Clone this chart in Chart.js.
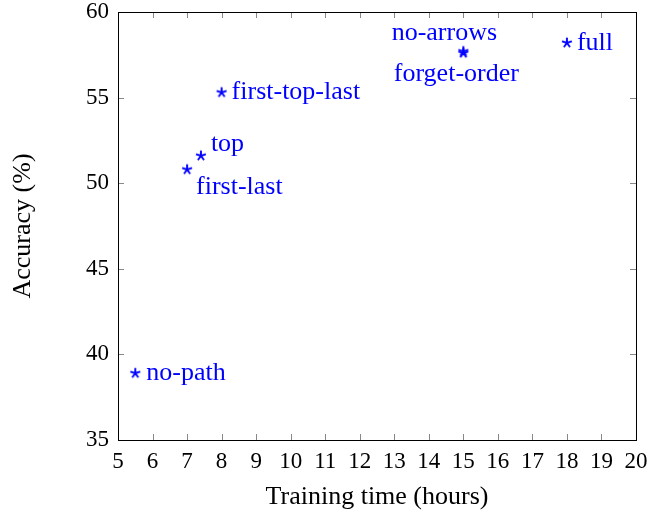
<!DOCTYPE html>
<html>
<head>
<meta charset="utf-8">
<script src="https://cdn.jsdelivr.net/npm/chart.js@4.4.1/dist/chart.umd.min.js"></script>
<style>
  html, body { margin: 0; background: #fff; }
</style>
</head>
<body>
<canvas id="chart" width="663" height="516"></canvas>
<script>
// data
const methods = ["no-path", "first-last", "top", "first-top-last", "no-arrows", "forget-order", "full"]
const trainingHours = [5.5, 7.0, 7.4, 8.0, 15.0, 15.0, 18.0]
const accuracy = [38.9, 50.8, 51.6, 55.3, 57.7, 57.6, 58.2]
const xRange = [5, 20]
const yRange = [35, 60]

// where each label sits relative to its marker: [dx, dy, textAlign]
const labelPlace = {
  "no-path": [11, 0, "left"],
  "first-last": [9, 18, "left"],
  "top": [10, -12, "left"],
  "first-top-last": [10, 0, "left"],
  "no-arrows": [-19, -18, "center"],
  "forget-order": [-7, 21, "center"],
  "full": [10, 0, "left"]
}

const BLUE = "#0000ff"
const SERIF = "'Liberation Serif', 'DejaVu Serif', serif"

// pgfplots-like 5-arm star marker
function makeStar() {
  const c = document.createElement("canvas")
  c.width = 14; c.height = 14
  const g = c.getContext("2d")
  g.strokeStyle = BLUE
  g.lineWidth = 1.9
  g.beginPath()
  for (let i = 0; i < 5; i++) {
    const a = -Math.PI / 2 + i * 2 * Math.PI / 5
    g.moveTo(7, 7)
    g.lineTo(7 + 5.2 * Math.cos(a), 7 + 5.2 * Math.sin(a))
  }
  g.stroke()
  return c
}

// box, inward ticks on all four sides, and the point labels
const framePlugin = {
  id: "frame",
  afterDraw(chart) {
    const { ctx, chartArea: a, scales } = chart
    ctx.save()
    ctx.strokeStyle = "#888"
    ctx.lineWidth = 1
    const len = 6
    scales.x.ticks.forEach(t => {
      const px = Math.round(scales.x.getPixelForValue(t.value)) + 0.5
      ctx.beginPath()
      ctx.moveTo(px, a.bottom); ctx.lineTo(px, a.bottom - len)
      ctx.moveTo(px, a.top); ctx.lineTo(px, a.top + len)
      ctx.stroke()
    })
    scales.y.ticks.forEach(t => {
      const py = Math.round(scales.y.getPixelForValue(t.value)) + 0.5
      ctx.beginPath()
      ctx.moveTo(a.left, py); ctx.lineTo(a.left + len, py)
      ctx.moveTo(a.right, py); ctx.lineTo(a.right - len, py)
      ctx.stroke()
    })
    ctx.strokeStyle = "#000"
    ctx.strokeRect(Math.round(a.left) + 0.5, Math.round(a.top) + 0.5,
      Math.round(a.right - a.left), Math.round(a.bottom - a.top))

    ctx.fillStyle = BLUE
    ctx.font = "26px " + SERIF
    ctx.textBaseline = "middle"
    const meta = chart.getDatasetMeta(0)
    meta.data.forEach((pt, i) => {
      const [dx, dy, align] = labelPlace[methods[i]]
      ctx.textAlign = align
      ctx.fillText(methods[i], pt.x + dx, pt.y + dy)
    })
    ctx.restore()
  }
}

const star = makeStar()

new Chart(document.getElementById("chart"), {
  type: "scatter",
  data: {
    datasets: [{
      data: trainingHours.map((h, i) => ({ x: h, y: accuracy[i] })),
      pointStyle: star,
      pointRadius: 5
    }]
  },
  options: {
    responsive: false,
    animation: false,
    layout: { padding: { top: 12, right: 27, left: 0, bottom: 0 } },
    plugins: { legend: { display: false }, tooltip: { enabled: false } },
    scales: {
      x: {
        type: "linear",
        min: xRange[0], max: xRange[1],
        ticks: { stepSize: 1, color: "#000", padding: 0, maxRotation: 0, autoSkip: false,
          font: { family: SERIF, size: 23 } },
        grid: { display: false },
        border: { display: false },
        title: { display: true, text: "Training time (hours)", color: "#000",
          font: { family: SERIF, size: 26 }, padding: { top: 0, bottom: 3 } },
        afterFit(s) { s.height = 76; s.paddingLeft = 0; s.paddingRight = 0 }
      },
      y: {
        type: "linear",
        min: yRange[0], max: yRange[1],
        ticks: { stepSize: 5, color: "#000", padding: 1,
          font: { family: SERIF, size: 23 } },
        grid: { display: false },
        border: { display: false },
        title: { display: true, text: "Accuracy (%)", color: "#000",
          font: { family: SERIF, size: 26 }, padding: { top: 8, bottom: 0 } },
        afterFit(s) { s.width = 118; s.paddingTop = 0; s.paddingBottom = 0 }
      }
    }
  },
  plugins: [framePlugin]
})
</script>
</body>
</html>
